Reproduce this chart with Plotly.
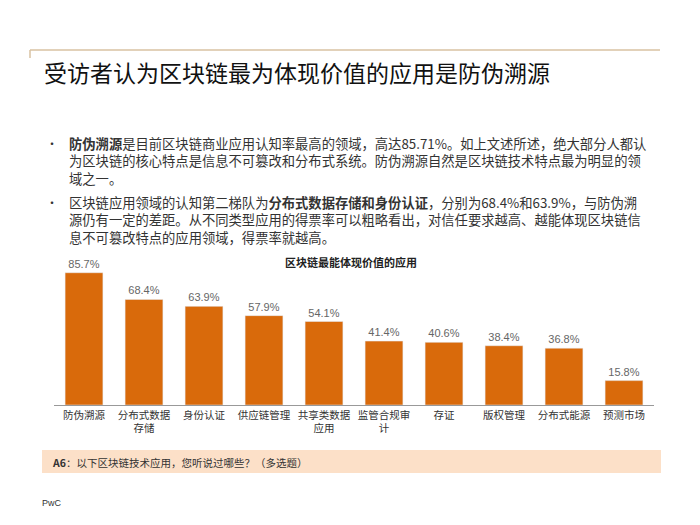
import plotly.graph_objects as go

# data
apps = ["防伪溯源", "分布式数据<br>存储", "身份认证", "供应链管理", "共享类数据<br>应用",
        "监管合规审<br>计", "存证", "版权管理", "分布式能源", "预测市场"]
share = [85.7, 68.4, 63.9, 57.9, 54.1, 41.4, 40.6, 38.4, 36.8, 15.8]

title = "受访者认为区块链最为体现价值的应用是防伪溯源"
chart_title = "区块链最能体现价值的应用"
bullet1 = ["<b>防伪溯源</b>是目前区块链商业应用认知率最高的领域，高达85.71%。如上文述所述，绝大部分人都认",
           "为区块链的核心特点是信息不可篡改和分布式系统。防伪溯源自然是区块链技术特点最为明显的领",
           "域之一。"]
bullet2 = ["区块链应用领域的认知第二梯队为<b>分布式数据存储和身份认证</b>，分别为68.4%和63.9%，与防伪溯",
           "源仍有一定的差距。从不同类型应用的得票率可以粗略看出，对信任要求越高、越能体现区块链信",
           "息不可篡改特点的应用领域，得票率就越高。"]
question = "<b>A6</b>：以下区块链技术应用，您听说过哪些？（多选题）"

W, H = 700, 525
OFF = 8  # page body margin
font = "Noto Sans CJK SC, Noto Sans, sans-serif"

def px(x):
    return (x - OFF) / W

def py(y):
    return 1 - (y - OFF) / H

fig = go.Figure(go.Bar(
    x=apps, y=share,
    marker_color="#D96A0B",
    text=[f"{v:.1f}%" for v in share],
    textposition="outside",
    textfont=dict(size=11, color="#666666", family="Arial, sans-serif"),
    cliponaxis=False,
    width=0.63,
))

fig.update_layout(
    width=W, height=H,
    margin=dict(l=0, r=0, t=0, b=0),
    paper_bgcolor="white", plot_bgcolor="white",
    showlegend=False,
    font=dict(family=font, color="#222222"),
    xaxis=dict(domain=[px(54), px(654)], showline=True, linecolor="#999999", linewidth=1,
               ticks="", tickfont=dict(size=10.5, color="#333333"), fixedrange=True),
    yaxis=dict(domain=[py(405), py(263)], range=[0, 92], visible=False, showgrid=False),
)

shapes = [
    dict(type="line", xref="paper", yref="paper", x0=px(30), x1=px(660), y0=py(50), y1=py(50),
         line=dict(color="#D8C2A2", width=1.5)),
    dict(type="line", xref="paper", yref="paper", x0=px(30), x1=px(30), y0=py(50), y1=py(58),
         line=dict(color="#D8C2A2", width=1.5)),
    dict(type="rect", xref="paper", yref="paper", x0=px(42), x1=px(661), y0=py(473), y1=py(450),
         fillcolor="#FCE0C8", line=dict(width=0), layer="below"),
]
fig.update_layout(shapes=shapes)

ann = [
    dict(text=title, x=px(42), y=py(72), xanchor="left", yanchor="middle",
         font=dict(size=23, color="#111111")),
    dict(text=f"<b>{chart_title}</b>", x=px(351), y=py(262), xanchor="center", yanchor="middle",
         font=dict(size=11, color="#222222")),
    dict(text=question, x=px(50), y=py(462), xanchor="left", yanchor="middle",
         font=dict(size=10.5, color="#333333")),
    dict(text="PwC", x=px(40), y=py(503), xanchor="left", yanchor="middle",
         font=dict(size=9, color="#333333", family="Arial, sans-serif")),
]
for top, lines in [(143, bullet1), (202, bullet2)]:
    ann.append(dict(text="•", x=px(44), y=py(top), xanchor="left", yanchor="middle",
                    font=dict(size=12, color="#333333")))
    ann.append(dict(text="<br>".join(lines), x=px(68), y=py(top + 18), xanchor="left",
                    yanchor="middle", align="left", borderpad=0,
                    font=dict(size=13.3, color="#333333")))
for a in ann:
    a.update(xref="paper", yref="paper", showarrow=False)
fig.update_layout(annotations=ann)

fig.write_html("out.html")
